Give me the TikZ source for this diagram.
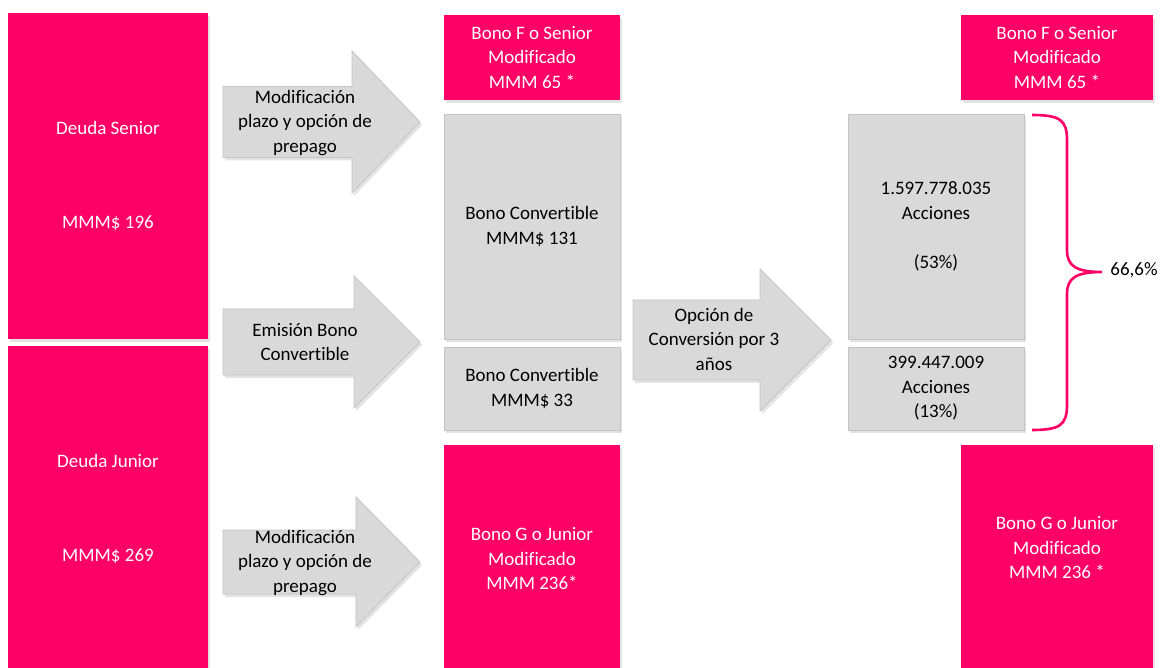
\documentclass[tikz,border=0pt]{standalone}
\usepackage{fontspec}
\setmainfont{Carlito}[Ligatures={NoCommon}]
\usetikzlibrary{shadows,positioning}
\definecolor{rosa}{HTML}{FF0066}
\definecolor{gris}{HTML}{D9D9D9}
\definecolor{grisborde}{HTML}{C4C4C4}
\tikzset{
  sombra/.style={drop shadow={shadow xshift=2pt,shadow yshift=-3pt,opacity=0.22}},
  caja/.style={sombra,inner sep=0pt,align=center,font=\fontsize{19}{24.5}\selectfont},
  rosabox/.style={caja,fill=rosa,text=white},
  grisbox/.style={caja,fill=gris,draw=grisborde,line width=0.8pt,text=black},
  flecha/.style={sombra,fill=gris,draw=grisborde,line width=0.8pt},
  rotulo/.style={align=center,inner sep=0pt,font=\fontsize{19}{24.5}\selectfont}
}

\begin{document}
\begin{tikzpicture}[x=1pt,y=-1pt]
\useasboundingbox[fill=white] (0,0) rectangle (1160,668);
% deuda original
\node[rosabox,minimum width=200pt,minimum height=326pt] (dsenior) at (108,176) {Deuda Senior\\[70pt]MMM\$ 196};
\node[rosabox,minimum width=200pt,minimum height=326pt] (djunior) at (108,509) {Deuda Junior\\[70pt]MMM\$ 269};
% flechas
\foreach \ta/\hb/\tp/\yc/\bh/\hh in {223/352/420/122/35.5/71,223/354/420/342/33/66,223/356/420/562/32/65,633/760/831/340/40/71}{\draw[flecha] (\ta,\yc-\bh)--(\hb,\yc-\bh)--(\hb,\yc-\hh)--(\tp,\yc)--(\hb,\yc+\hh)--(\hb,\yc+\bh)--(\ta,\yc+\bh)--cycle;}
\node[rotulo] (modsenior) at (305,123) {Modificación\\plazo y opción de\\prepago};
\node[rotulo] (emision) at (305,342) {Emisión Bono\\Convertible};
\node[rotulo] (modjunior) at (305,563) {Modificación\\plazo y opción de\\prepago};
\node[rotulo] (conversion) at (714,339) {Opción de\\Conversión por 3\\años};
% reestructuracion
\node[rosabox,minimum width=176pt,minimum height=85pt] (bonof) at (532,57.5) {Bono F o Senior\\Modificado\\MMM 65 *};
\node[grisbox,minimum width=176pt,minimum height=225pt] (conv131) at (532,226.5) {Bono Convertible\\MMM\$ 131};
\node[grisbox,minimum width=176pt,minimum height=83pt] (conv33) at (532,388.5) {Bono Convertible\\MMM\$ 33};
\node[rosabox,minimum width=176pt,minimum height=228pt] (bonog) at (532,559) {Bono G o Junior\\Modificado\\MMM 236*};
% despues de la conversion
\node[rosabox,minimum width=192pt,minimum height=85pt] (bonofconv) at (1057,57.5) {Bono F o Senior\\Modificado\\MMM 65 *};
\node[grisbox,minimum width=176pt,minimum height=225pt] (acc53) at (936,226.5) {1.597.778.035\\Acciones\\[24.5pt](53\%)};
\node[grisbox,minimum width=176pt,minimum height=83pt] (acc13) at (936,388.5) {399.447.009\\Acciones\\(13\%)};
\node[rosabox,minimum width=192pt,minimum height=240pt] (bonogconv) at (1057,565) {};
\node[rotulo,text=white] (bonogtxt) at (1057,548) {Bono G o Junior\\Modificado\\MMM 236 *};
% llave
\draw[rosa,line width=2.6pt] (1032,115) .. controls (1060,115) and (1067,120) .. (1067,140) -- (1067,250) .. controls (1067,266) and (1076,272) .. (1102,272) .. controls (1076,272) and (1067,278) .. (1067,294) -- (1067,405) .. controls (1067,425) and (1060,430) .. (1032,430);
\node[rotulo] (total) at (1134,270) {66,6\%};
\end{tikzpicture}
\end{document}
